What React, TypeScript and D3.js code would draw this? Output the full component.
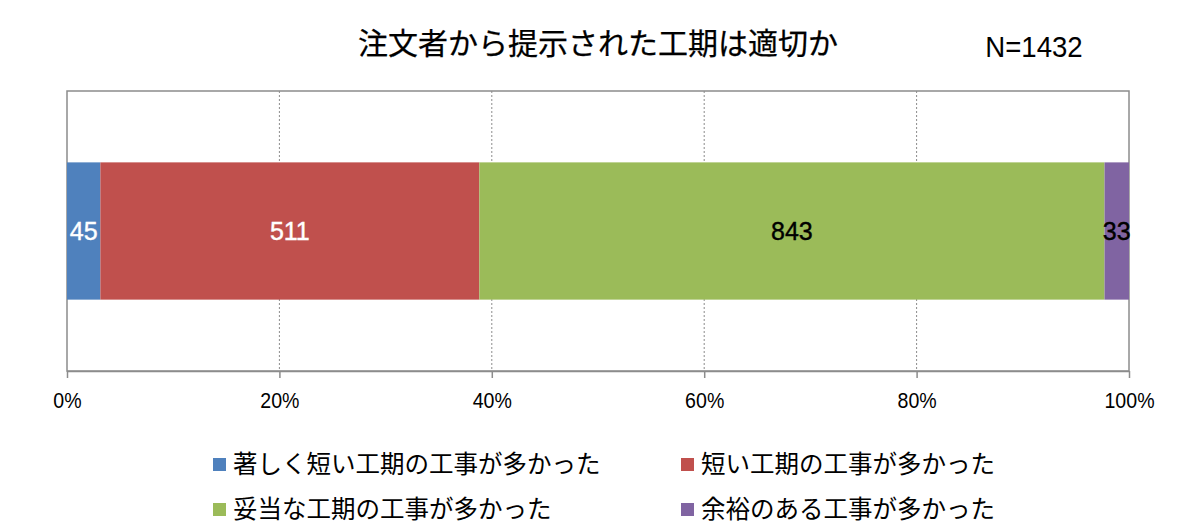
// Stacked 100% bar: 注文者から提示された工期は適切か
import React, { useEffect, useRef } from 'react'
import * as d3 from 'd3'

const categories = [
  '著しく短い工期の工事が多かった',
  '短い工期の工事が多かった',
  '妥当な工期の工事が多かった',
  '余裕のある工事が多かった',
]
const counts = [45, 511, 843, 33]
const colors = ['#4F81BD', '#C0504D', '#9BBB59', '#8064A2']
const labelColors = ['white', 'white', 'black', 'black']
const ticks = [0, 0.2, 0.4, 0.6, 0.8, 1]

const W = 1200
const H = 530
const plot = { left: 67, right: 1129, top: 91, bottom: 371 }
const latin = '"Liberation Sans", Arial, sans-serif'
const jp = '"Noto Sans CJK JP", sans-serif'

const create = (el: SVGSVGElement) => {
  const svg = d3.select(el)
  svg.selectAll('*').remove()

  const total = d3.sum(counts)
  const stacked = counts.map((c, i) => ({
    name: categories[i],
    value: c,
    x0: d3.sum(counts.slice(0, i)) / total,
    x1: d3.sum(counts.slice(0, i + 1)) / total,
    color: colors[i],
    labelColor: labelColors[i],
  }))

  const x = d3.scaleLinear().domain([0, 1]).range([plot.left, plot.right])
  const y = d3.scaleBand().domain(['all']).range([plot.top, plot.bottom]).paddingInner(0).paddingOuter(0.52)

  // Title and N
  svg
    .append('text')
    .attr('x', 598)
    .attr('y', 54)
    .attr('text-anchor', 'middle')
    .style('font-family', jp)
    .style('font-weight', 400)
    .style('font-size', '30px')
    .style('stroke', 'black')
    .style('stroke-width', 0.25)
    .text('注文者から提示された工期は適切か')

  svg
    .append('text')
    .attr('transform', 'translate(1034, 57) scale(0.92, 1)')
    .attr('text-anchor', 'middle')
    .style('font-family', latin)
    .style('font-size', '30px')
    .text('N=1432')

  // Plot frame
  svg
    .append('rect')
    .attr('x', plot.left)
    .attr('y', plot.top)
    .attr('width', plot.right - plot.left)
    .attr('height', plot.bottom - plot.top)
    .attr('fill', 'white')
    .attr('stroke', '#8c8c8c')
    .attr('stroke-width', 1.5)

  // Dotted gridlines
  svg
    .append('g')
    .selectAll('line')
    .data(ticks.slice(1, -1))
    .join('line')
    .attr('x1', d => x(d))
    .attr('x2', d => x(d))
    .attr('y1', plot.top)
    .attr('y2', plot.bottom)
    .attr('stroke', '#8c8c8c')
    .attr('stroke-width', 1)
    .attr('stroke-dasharray', '2,2')

  // Bars
  const band = y('all') as number
  svg
    .append('g')
    .selectAll('rect')
    .data(stacked)
    .join('rect')
    .attr('x', d => x(d.x0))
    .attr('y', band)
    .attr('width', d => x(d.x1) - x(d.x0))
    .attr('height', y.bandwidth())
    .attr('fill', d => d.color)

  // Value labels
  svg
    .append('g')
    .selectAll('text')
    .data(stacked)
    .join('text')
    .attr('x', d => (x(d.x0) + x(d.x1)) / 2)
    .attr('y', band + y.bandwidth() / 2)
    .attr('dy', '0.36em')
    .attr('text-anchor', 'middle')
    .style('font-family', latin)
    .style('font-size', '25px')
    .style('fill', d => d.labelColor)
    .style('stroke', d => d.labelColor)
    .style('stroke-width', 0.4)
    .text(d => d.value)

  // X axis
  const xAxis = svg
    .append('g')
    .attr('transform', `translate(0, ${plot.bottom})`)
    .call(
      d3
        .axisBottom(x)
        .tickValues(ticks)
        .tickSize(7)
        .tickSizeOuter(0)
        .tickFormat(d3.format('.0%'))
    )
  xAxis.selectAll('line').style('stroke', '#8c8c8c').style('stroke-width', 1.5)
  xAxis.selectAll('path').style('stroke', '#8c8c8c').style('stroke-width', 1.5)
  xAxis
    .selectAll('text')
    .attr('y', null)
    .attr('dy', null)
    .attr('transform', 'translate(0, 37) scale(0.89, 1)')
    .style('fill', 'black')
    .style('font-family', latin)
    .style('font-size', '22px')

  // Legend (two columns, two rows)
  const legendCols = [213, 681]
  const legendRows = [464, 509]
  const legend = svg
    .append('g')
    .selectAll('g')
    .data(stacked)
    .join('g')
    .attr('transform', (d, i) => `translate(${legendCols[i % 2]}, ${legendRows[Math.floor(i / 2)]})`)
  legend
    .append('rect')
    .attr('x', 0)
    .attr('y', -6)
    .attr('width', 13)
    .attr('height', 13)
    .attr('fill', d => d.color)
  legend
    .append('text')
    .attr('x', 20)
    .attr('y', 0)
    .attr('dy', '0.36em')
    .style('font-family', jp)
    .style('font-size', '24.5px')
    .text(d => d.name)
}

export default function App() {
  const ref = useRef<SVGSVGElement>(null)
  useEffect(() => {
    if (ref.current) create(ref.current)
  }, [])
  return (
    <svg
      ref={ref}
      width={W}
      height={H}
      style={{ position: 'absolute', left: 0, top: 0, background: 'white' }}
    />
  )
}
